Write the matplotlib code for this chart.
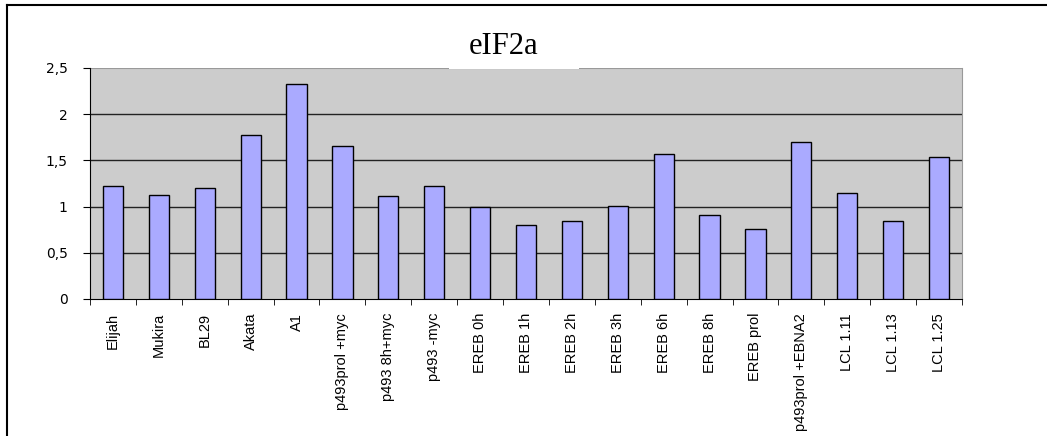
import numpy as np
import matplotlib
matplotlib.use("Agg")
from matplotlib import pyplot as plt
from matplotlib.patches import Rectangle
from matplotlib.lines import Line2D

# data
labels = ['Elijah', 'Mukira', 'BL29', 'Akata', 'A1', 'p493prol +myc',
          'p493 8h+myc', 'p493 -myc', 'EREB 0h', 'EREB 1h', 'EREB 2h',
          'EREB 3h', 'EREB 6h', 'EREB 8h', 'EREB prol', 'p493prol +EBNA2',
          'LCL 1.11', 'LCL 1.13', 'LCL 1.25']
values = [1.22, 1.13, 1.20, 1.77, 2.33, 1.66, 1.12, 1.22, 1.00, 0.80, 0.84,
          1.01, 1.57, 0.91, 0.76, 1.70, 1.15, 0.84, 1.54]
yticks = [0, 0.5, 1, 1.5, 2, 2.5]
ytick_labels = ['0', '0,5', '1', '1,5', '2', '2,5']

W, H = 1047, 436
fig = plt.figure(figsize=(W / 100, H / 100), dpi=100)

# outer chart frame (only top and left edges visible)
fig.add_artist(Line2D([7 / W, 1], [1 - 5 / H, 1 - 5 / H], color='black', lw=1.5))
fig.add_artist(Line2D([7 / W, 7 / W], [0, 1 - 5 / H], color='black', lw=1.5))

ax = fig.add_axes([90 / W, (H - 299) / H, 872 / W, 231 / H])
ax.set_facecolor('#cccccc')

x = np.arange(len(values))
ax.bar(x, values, width=0.44, color='#aaaaff', edgecolor='black', linewidth=1.0, zorder=3)

ax.set_xlim(-0.5, len(values) - 0.5)
ax.set_ylim(0, 2.5)

for v in [0.5, 1, 1.5, 2]:
    ax.axhline(v, color='#222222', lw=1.0, zorder=1)
ax.axhline(2.5, color='#999999', lw=1.5, zorder=1)

ax.spines['top'].set_visible(False)
ax.spines['right'].set_color('#999999')
ax.spines['left'].set_color('black')
ax.spines['bottom'].set_color('black')

ax.set_yticks(yticks)
ax.set_yticklabels(ytick_labels, fontsize=10, family='DejaVu Sans')
ax.tick_params(axis='y', direction='out', length=5, pad=11)

# category labels centered, ticks at boundaries
ax.set_xticks(x)
ax.set_xticklabels(labels, rotation=90, fontsize=10.5,
                   family=['Liberation Sans', 'DejaVu Sans'])
ax.tick_params(axis='x', which='major', length=0, pad=10)
ax.set_xticks(np.arange(-0.5, len(values), 1), minor=True)
ax.tick_params(axis='x', which='minor', direction='out', length=4)

# title with white box over the top border
fig.add_artist(Rectangle((449 / W, (H - 69) / H), 130 / W, 40 / H,
                         facecolor='white', edgecolor='none', zorder=5))
fig.text(504 / W, (H - 46) / H, 'eIF2a', ha='center', va='center',
         fontsize=22, family='Liberation Serif', zorder=6)

fig.savefig('out.png', dpi=100)
